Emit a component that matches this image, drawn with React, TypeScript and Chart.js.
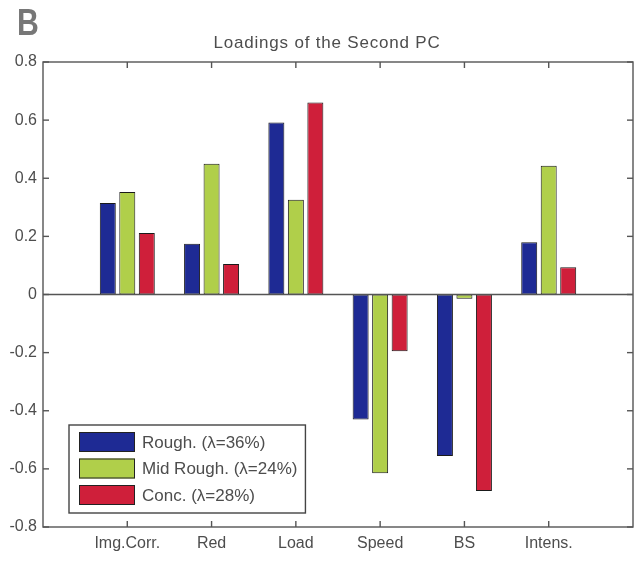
import { useEffect, useRef } from 'react';
import { Chart, registerables } from 'chart.js';

Chart.register(...registerables);

// Loadings of the second principal component per feature
const categories = ['Img.Corr.', 'Red', 'Load', 'Speed', 'BS', 'Intens.'];
const roughValues = [0.315, 0.175, 0.592, -0.43, -0.556, 0.18];
const midRoughValues = [0.353, 0.45, 0.326, -0.615, -0.015, 0.443];
const concValues = [0.212, 0.105, 0.661, -0.195, -0.676, 0.094];
const seriesLabels = ['Rough. (\u03bb=36%)', 'Mid Rough. (\u03bb=24%)', 'Conc. (\u03bb=28%)'];
const seriesColors = ['#1e2a94', '#b0cf4a', '#cf1f3a'];
const yMin = -0.8;
const yMax = 0.8;
const yStep = 0.2;
const titleText = 'Loadings of the Second PC';
const panelLetter = 'B';

const FONT = "'Liberation Sans', Arial, Helvetica, sans-serif";
const TEXT_COLOR = '#4d4d4d';
const AXIS_COLOR = '#555';

// one empty slot on each side so the categories sit at 1..6 of a 0..7 axis
const paddedLabels = ['', ...categories, ''];
const pad = (vals: number[]) => [null, ...vals, null];

const axesPlugin = {
  id: 'boxedAxes',
  afterDatasetsDraw(chart: any) {
    const { ctx, chartArea: a, scales } = chart;
    const x = scales.x;
    const y = scales.y;
    const line = (x1: number, y1: number, x2: number, y2: number) => {
      ctx.beginPath();
      ctx.moveTo(x1, y1);
      ctx.lineTo(x2, y2);
      ctx.stroke();
    };
    ctx.save();
    ctx.strokeStyle = AXIS_COLOR;
    ctx.lineWidth = 1.4;
    const y0 = y.getPixelForValue(0);
    line(a.left, y0, a.right, y0);
    ctx.strokeRect(a.left, a.top, a.right - a.left, a.bottom - a.top);
    const tl = 6;
    y.ticks.forEach((t: any) => {
      const py = y.getPixelForValue(t.value);
      line(a.left, py, a.left + tl, py);
      line(a.right, py, a.right - tl, py);
    });
    categories.forEach((_, i) => {
      const px = x.getPixelForValue(i + 1);
      line(px, a.bottom, px, a.bottom - tl);
      line(px, a.top, px, a.top + tl);
    });
    ctx.restore();
  },
  afterDraw(chart: any) {
    const { ctx, chartArea: a } = chart;
    ctx.save();

    // panel letter
    ctx.fillStyle = '#777';
    ctx.font = `bold 36px ${FONT}`;
    ctx.textAlign = 'left';
    ctx.textBaseline = 'alphabetic';
    ctx.save();
    ctx.translate(17, 35);
    ctx.scale(0.84, 1);
    ctx.fillText(panelLetter, 0, 0);
    ctx.restore();

    // title
    ctx.fillStyle = TEXT_COLOR;
    ctx.font = `17px ${FONT}`;
    (ctx as any).letterSpacing = '0.8px';
    ctx.textAlign = 'center';
    ctx.textBaseline = 'middle';
    ctx.fillText(titleText, 327, 43);
    (ctx as any).letterSpacing = '0px';

    // legend box in the lower left of the axes
    ctx.font = `17px ${FONT}`;
    const widths = seriesLabels.map((s) => ctx.measureText(s).width);
    const swW = 56;
    const swH = 20;
    const rowPitch = 26.5;
    const boxLeft = a.left + 26;
    const boxBottom = a.bottom - 14;
    const boxH = 7 + swH * 3 + (rowPitch - swH) * 2 + 8;
    const boxTop = boxBottom - boxH;
    const boxW = 10 + swW + 7 + Math.max(...widths) + 8;
    ctx.fillStyle = '#fff';
    ctx.fillRect(boxLeft, boxTop, boxW, boxH);
    ctx.strokeStyle = '#444';
    ctx.lineWidth = 1.4;
    ctx.strokeRect(boxLeft, boxTop, boxW, boxH);
    seriesLabels.forEach((label, i) => {
      const sx = boxLeft + 10;
      const sy = boxTop + 7 + i * rowPitch;
      ctx.fillStyle = seriesColors[i];
      ctx.fillRect(sx, sy, swW, swH);
      ctx.strokeStyle = '#222';
      ctx.lineWidth = 1;
      ctx.strokeRect(sx + 0.5, sy + 0.5, swW - 1, swH - 1);
      ctx.fillStyle = TEXT_COLOR;
      ctx.textAlign = 'left';
      ctx.textBaseline = 'middle';
      ctx.fillText(label, sx + swW + 7, sy + swH / 2 + 1);
    });
    ctx.restore();
  },
};

export default function App() {
  const canvasRef = useRef<HTMLCanvasElement | null>(null);

  useEffect(() => {
    if (!canvasRef.current) return;
    const series = [roughValues, midRoughValues, concValues];
    const chart = new Chart(canvasRef.current, {
      type: 'bar',
      data: {
        labels: paddedLabels,
        datasets: series.map((vals, i) => ({
          label: seriesLabels[i],
          data: pad(vals),
          backgroundColor: seriesColors[i],
          borderColor: '#1a1a1a',
          borderWidth: 1,
          borderSkipped: false,
          categoryPercentage: 0.694,
          barPercentage: 0.82,
        })),
      },
      options: {
        responsive: false,
        animation: false,
        devicePixelRatio: 1,
        layout: { padding: { left: 0, right: 11, top: 62, bottom: 0 } },
        plugins: {
          legend: { display: false },
          title: { display: false },
          tooltip: { enabled: false },
        },
        scales: {
          x: {
            type: 'category',
            offset: false,
            grid: { display: false, drawTicks: false },
            border: { display: false },
            ticks: {
              autoSkip: false,
              maxRotation: 0,
              padding: 7,
              color: TEXT_COLOR,
              font: { family: FONT, size: 16 },
            },
            afterFit(scale: any) {
              scale.height = 36;
            },
          },
          y: {
            type: 'linear',
            min: yMin,
            max: yMax,
            grid: { display: false, drawTicks: false },
            border: { display: false },
            ticks: {
              stepSize: yStep,
              padding: 6,
              color: TEXT_COLOR,
              font: { family: FONT, size: 16 },
              callback: (v: any) => String(Number(Number(v).toFixed(1))),
            },
            afterFit(scale: any) {
              scale.width = 43;
            },
          },
        },
      },
      plugins: [axesPlugin],
    });
    return () => chart.destroy();
  }, []);

  return (
    <div style={{ position: 'absolute', left: 0, top: 0, width: 644, height: 563, background: '#fff' }}>
      <canvas ref={canvasRef} width={644} height={563} style={{ display: 'block' }} />
    </div>
  );
}
